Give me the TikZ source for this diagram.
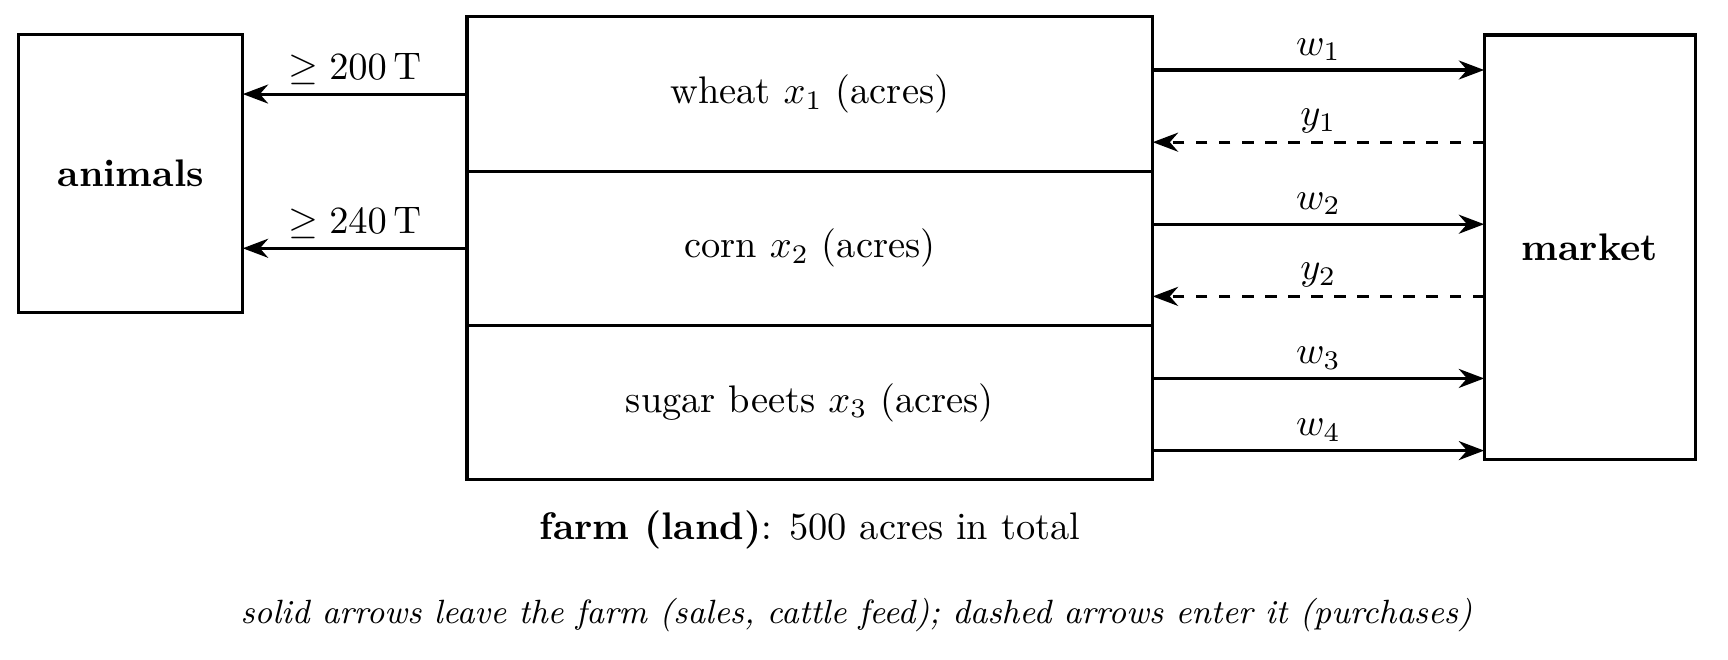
\documentclass[tikz,border=0pt]{standalone}
\usetikzlibrary{positioning,arrows.meta}
\begin{document}
\begin{tikzpicture}[thick,
    box/.style={draw, outer sep=0pt, inner sep=0pt},
    row/.style={box, minimum width=6.27cm, minimum height=1.41cm},
    lbl/.style={midway, above, inner sep=2.4pt, outer sep=0pt},
    sold/.style={-{Stealth}},
    bought/.style={-{Stealth}, dashed}]
    \useasboundingbox (0,0) rectangle (15.8,-6.03);
    % the farm, one row per crop
    \node [row] (wheat) at (7.405,-0.86) {wheat $x_1$ (acres)};
    \node [row, below=0pt of wheat] (corn) {corn $x_2$ (acres)};
    \node [row, below=0pt of corn] (beets) {sugar beets $x_3$ (acres)};
    \node [box, minimum width=2.05cm, minimum height=2.54cm,
        left=2.05cm of wheat.south west, yshift=-0.02cm] (animals) {\textbf{animals}};
    \node [box, minimum width=1.93cm, minimum height=3.88cm,
        right=3.03cm of corn, yshift=0.01cm] (market) {\textbf{market}};
    \node [below=0.15cm of beets] (total) {\textbf{farm (land)}: 500 acres in total};
    \node (note) at (7.83,-5.62) {\fontsize{8.75pt}{10pt}\selectfont\itshape solid arrows leave the farm (sales, cattle feed); dashed arrows enter it (purchases)};
    % cattle feed
    \draw [sold] (wheat.west) -- (wheat.west -| animals.east)
        node [lbl] {$\geq 200\,\mathrm{T}$};
    \draw [sold] (corn.west) -- (corn.west -| animals.east)
        node [lbl] {$\geq 240\,\mathrm{T}$};
    % sales and purchases
    \coordinate (w1) at ([yshift=0.22cm]wheat.east);
    \coordinate (y1) at ([yshift=-0.44cm]wheat.east);
    \coordinate (w2) at ([yshift=0.22cm]corn.east);
    \coordinate (y2) at ([yshift=-0.44cm]corn.east);
    \coordinate (w3) at ([yshift=0.22cm]beets.east);
    \coordinate (w4) at ([yshift=-0.44cm]beets.east);
    \draw [sold] (w1) -- (w1 -| market.west) node [lbl] {$w_1$};
    \draw [bought] (y1 -| market.west) -- (y1) node [lbl] {$y_1$};
    \draw [sold] (w2) -- (w2 -| market.west) node [lbl] {$w_2$};
    \draw [bought] (y2 -| market.west) -- (y2) node [lbl] {$y_2$};
    \draw [sold] (w3) -- (w3 -| market.west) node [lbl] {$w_3$};
    \draw [sold] (w4) -- (w4 -| market.west) node [lbl] {$w_4$};
\end{tikzpicture}
\end{document}
